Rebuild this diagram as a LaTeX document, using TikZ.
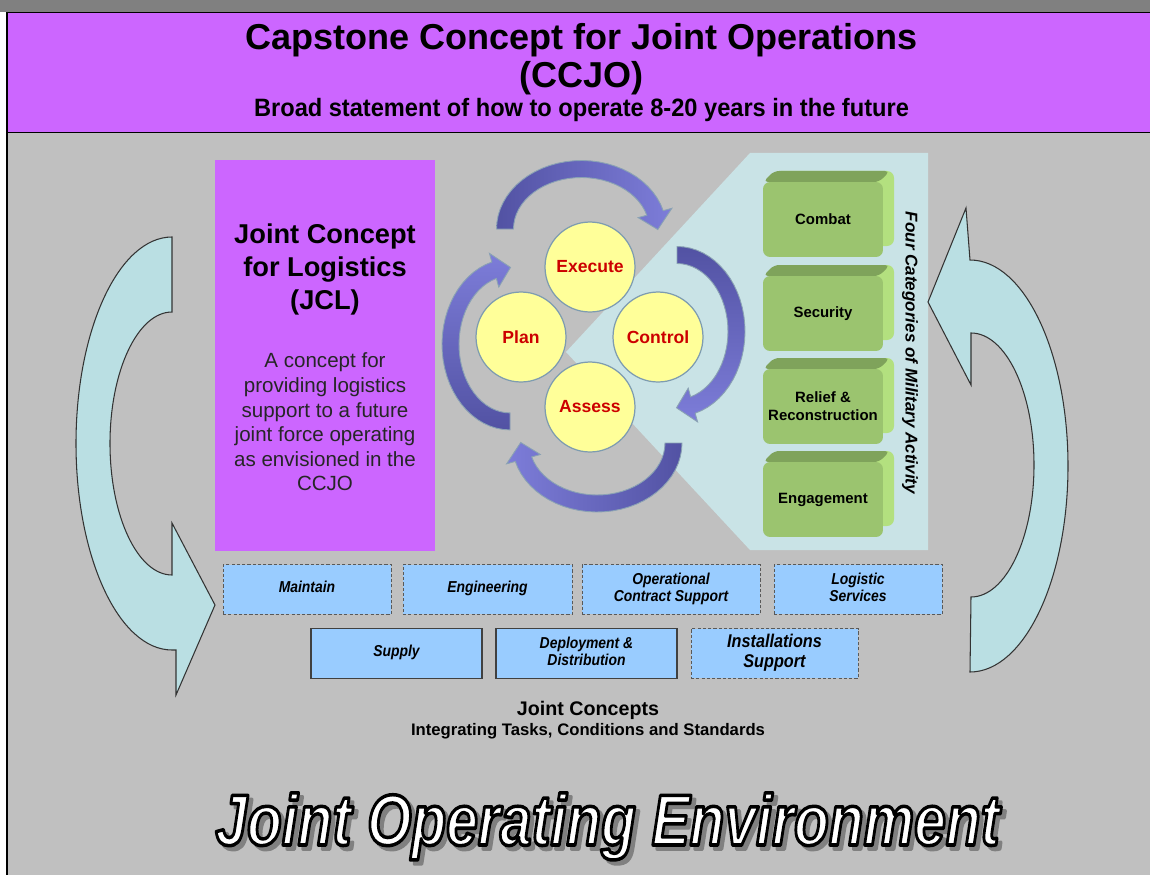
\documentclass[tikz,border=0pt]{standalone}
\usepackage{fontspec}
\usepackage{graphicx}
\setmainfont{Liberation Sans}
\usetikzlibrary{positioning, calc}

\definecolor{ccjopurple}{HTML}{CC66FF}
\definecolor{bodygray}{HTML}{C0C0C0}
\definecolor{stripgray}{HTML}{808080}
\definecolor{panelcyan}{HTML}{C9E3E6}
\definecolor{loopcyan}{HTML}{BADFE3}
\definecolor{taskblue}{HTML}{99CCFF}
\definecolor{phaseyellow}{HTML}{FFFF99}
\definecolor{phaseedge}{HTML}{7E9CB0}
\definecolor{phasered}{HTML}{CC0000}
\definecolor{arrowdark}{HTML}{5252A3}
\definecolor{arrowlight}{HTML}{7D7DD9}
\definecolor{arrowedge}{HTML}{8AA2B4}
\definecolor{boxfront}{HTML}{9BC46F}
\definecolor{boxtop}{HTML}{7FA35B}
\definecolor{boxside}{HTML}{B3E07F}

% narrow multi-line label
\newcommand{\cond}[2][0.88]{\scalebox{#1}[1]{\begin{tabular}{@{}c@{}}#2\end{tabular}}}
% stroked letters: #1 stroke grey level, #2 text
\newcommand{\strokedtext}[2]{%
  \special{pdf:literal direct #1 G 2.0 w 1 j 2 Tr}#2\special{pdf:literal direct 0 Tr}}
\newcommand{\joetext}{\scalebox{0.79}[1]{Joint Operating Environment}}

% one curved arrow of the cycle: centre x, centre y, x radius, y radius, tail angle, shading
\newcommand{\cyclearrow}[6]{%
  \shadedraw[cyclearr, #6]
    plot[domain=#5:#5+164.5, samples=30, variable=\t]
      ({#1+(#3+8.5)*cos(\t)}, {#2+(#4+8.5)*sin(\t)})
    -- ({#1+(#3+17.5)*cos(#5+164.5)}, {#2+(#4+17.5)*sin(#5+164.5)})
    -- ({#1+#3*cos(#5+180.5)}, {#2+#4*sin(#5+180.5)})
    -- ({#1+(#3-17.5)*cos(#5+164.5)}, {#2+(#4-17.5)*sin(#5+164.5)})
    -- plot[domain=#5+164.5:#5, samples=30, variable=\t]
      ({#1+(#3-8.5)*cos(\t)}, {#2+(#4-8.5)*sin(\t)})
    -- cycle;
}

\tikzset{
  titletext/.style = {font=\fontsize{20.5}{24}\selectfont\bfseries, anchor=base, inner sep=0pt},
  subtext/.style   = {font=\fontsize{14.3}{17}\selectfont\bfseries, anchor=base, inner sep=0pt},
  phase/.style     = {circle, draw=phaseedge, line width=0.7pt, fill=phaseyellow,
                      minimum size=1.8cm, inner sep=0pt, text=phasered,
                      font=\fontsize{10}{12}\selectfont\bfseries},
  cyclearr/.style  = {draw=arrowedge, line width=0.5pt},
  bigloop/.style   = {fill=loopcyan, draw=black!80, line width=0.6pt},
  actfront/.style  = {rectangle, rounded corners=0.14cm, fill=boxfront, align=center,
                      minimum width=2.4cm, minimum height=1.5cm, inner sep=0pt,
                      font=\fontsize{8.5}{10.4}\selectfont\bfseries},
  task/.style      = {rectangle, fill=taskblue, minimum height=1cm, inner sep=0pt,
                      font=\fontsize{9}{9.5}\selectfont\bfseries\itshape},
  taskdash/.style  = {task, draw=black!65, line width=0.5pt, dash pattern=on 1.8pt off 1.2pt},
  tasksolid/.style = {task, draw=black!75, line width=0.6pt},
  joe/.style       = {font=\fontsize{41}{48}\selectfont\bfseries\itshape, inner sep=0pt, anchor=base},
}

\begin{document}
\begin{tikzpicture}[x=0.02cm, y=-0.02cm]
  \useasboundingbox (0,0) rectangle (1150,875);
  \fill[white] (0,0) rectangle (1150,875);

  % banner and frame
  \fill[stripgray] (0,0) rectangle (1150,12);
  \fill[bodygray] (8,133) rectangle (1150,875);
  \draw[fill=ccjopurple, line width=1.1pt] (7,12.5) rectangle (1152,132.5);
  \draw[line width=1.1pt] (7,12) -- (7,875);

  \node[titletext] (title) at (581.5,50) {Capstone Concept for Joint Operations};
  \node[titletext] (ccjo) at (581.5,88) {(CCJO)};
  \node[subtext] (subtitle) at (581.5,117)
    {\scalebox{0.94}[1]{Broad statement of how to operate 8-20 years in the future}};

  % JCL column
  \fill[ccjopurple] (215,160) rectangle (435,551);
  \node[align=center, font=\fontsize{15.5}{18.8}\selectfont\bfseries] (jcltitle) at (325,269)
    {Joint Concept\\for Logistics\\(JCL)};
  \node[align=center, text=black!85, font=\fontsize{11.7}{14}\selectfont] (jclbody) at (325,422)
    {A concept for\\providing logistics\\support to a future\\joint force operating\\as envisioned in the\\CCJO};

  % panel behind the activity boxes
  \fill[panelcyan] (750,153) -- (928,153) -- (928,550) -- (750,550) -- (566,352) -- cycle;

  % plan-execute-control-assess cycle
  \cyclearrow{581.4}{229}{76.4}{60}{180}{left color=arrowdark, right color=arrowlight}
  \cyclearrow{677}{331.4}{59.5}{76.4}{270}{top color=arrowdark, bottom color=arrowlight}
  \cyclearrow{597.1}{443}{76.4}{60.5}{0}{right color=arrowdark, left color=arrowlight}
  \cyclearrow{510}{344.4}{59.5}{77}{90}{bottom color=arrowdark, top color=arrowlight}

  \node[phase] (execute) at (590,267) {Execute};
  \node[phase] (plan) at (521,337) {Plan};
  \node[phase] (control) at (658,337) {Control};
  \node[phase] (assess) at (590,407) {Assess};

  % four categories of military activity
  \foreach \nm/\yc/\lbl in {combat/219.5/Combat, security/313.5/Security,
                            relief/406.5/{Relief \&\\Reconstruction}, engage/499.5/Engagement} {
    \fill[boxside, rounded corners=0.14cm] (774,\yc-48.5) rectangle (894,\yc+26.5);
    \fill[boxtop, rounded corners=0.1cm] (763,\yc-37.5) -- (774,\yc-48.5)
      -- (890,\yc-48.5) -- (879,\yc-37.5) -- cycle;
    \node[actfront] (\nm) at (823,\yc) {\lbl};
  }
  \node[rotate=-90, font=\fontsize{9.7}{12}\selectfont\bfseries\itshape] (fourcat) at (910,353)
    {Four Categories of Military Activity};

  % big return arrows
  \filldraw[bigloop] (172,237)
    arc[start angle=270, end angle=90, x radius=96, y radius=206.5]
    -- (176,650) -- (176,695) -- (215,605) -- (172,523) -- (172,575)
    arc[start angle=90, end angle=270, x radius=62, y radius=131.5]
    -- cycle;
  \filldraw[bigloop] (970,672)
    arc[start angle=90, end angle=-90, x radius=98, y radius=206]
    -- (966,208) -- (928,302) -- (971,385) -- (971,333)
    arc[start angle=-90, end angle=90, x radius=63, y radius=132]
    -- cycle;

  % joint concept tasks
  \node[taskdash, minimum width=3.36cm] (maintain) at (307,589.5) {\cond{Maintain}};
  \node[taskdash, minimum width=3.38cm] (engineering) at (487.5,589.5) {\cond{Engineering}};
  \node[taskdash, minimum width=3.56cm] (ocs) at (671,589.5) {\cond{Operational\\Contract Support}};
  \node[taskdash, minimum width=3.36cm] (logserv) at (858,589.5) {\cond{Logistic\\Services}};
  \node[tasksolid, minimum width=3.42cm] (supply) at (396.5,653.5) {\cond{Supply}};
  \node[tasksolid, minimum width=3.62cm] (deploy) at (586.5,653.5) {\cond{Deployment \&\\Distribution}};
  \node[taskdash, minimum width=3.34cm, font=\fontsize{10.5}{11.4}\selectfont\bfseries\itshape]
    (install) at (774.5,653.5) {\cond{Installations\\Support}};

  \node[anchor=base, inner sep=0pt, font=\fontsize{11.2}{13}\selectfont\bfseries] (jc) at (588,715)
    {Joint Concepts};
  \node[anchor=base, inner sep=0pt, font=\fontsize{9.5}{11}\selectfont\bfseries] (jcsub) at (588,735)
    {Integrating Tasks, Conditions and Standards};

  % outlined title with drop shadow
  \coordinate (joebase) at (607.5,845);
  \node[joe, text=black!50] (joeshadow) at ($(joebase)+(4,4)$) {\strokedtext{0.5}{\joetext}};
  \node[joe, text=white] (joe) at (joebase) {\strokedtext{0}{\joetext}};
\end{tikzpicture}
\end{document}
